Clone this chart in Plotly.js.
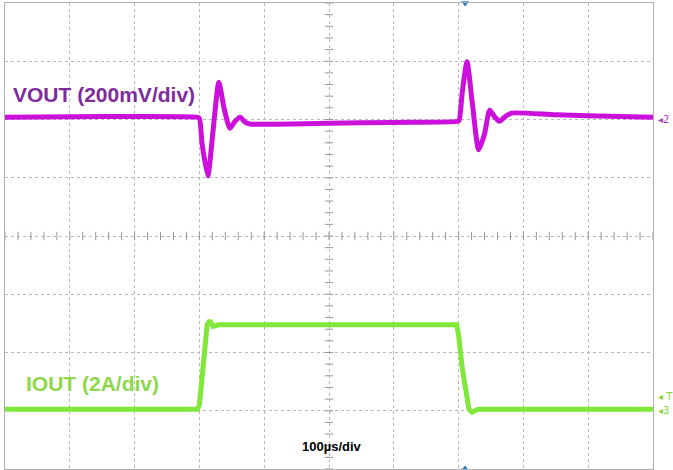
<!DOCTYPE html>
<html><head><meta charset="utf-8">
<script src="https://cdn.plot.ly/plotly-3.0.1.min.js"></script>
<style>html,body{margin:0;padding:0;background:#fff}#c{width:673px;height:470px}</style>
</head><body><div id="c"></div>
<script>
// time in microseconds (100 µs/div)
const vTime = [0, 150, 296, 300, 304, 313, 321, 330, 338, 347, 355, 363, 371, 380, 420, 500, 600, 699, 701, 706, 713, 721, 731, 740, 748, 756, 763, 772, 782, 850, 950, 1000];
// VOUT deviation in mV (200 mV/div), 0 = channel 2 marker
const vOut = [8, 10, 8, 4, -80, -194, -40, 128, 40, -30, -6, 8, -10, -16, -16, -13, -10, -6, -2, 100, 198, 60, -104, -50, 32, 8, -6, 10, 22, 16, 10, 8];
const iTime = [0, 297, 300, 304, 312, 316, 321, 330, 500, 697, 700, 706, 716, 721, 730, 800, 1000];
// IOUT in A (2 A/div), 0 = channel 3 marker
const iOut = [0.05, 0.05, 0.2, 1.2, 2.95, 3.1, 2.9, 2.95, 2.95, 2.95, 2.6, 1.4, 0.05, -0.05, 0.05, 0.05, 0.05];
const vLabel = 'VOUT (200mV/div)';
const iLabel = 'IOUT (2A/div)';
const timeLabel = '100µs/div';
const triggerTime = 710;

// minor ticks along the centre crosshair
const hx = [], hy = [], vx = [], vy = [];
for (let t = 0; t <= 1000; t += 20) { hx.push(t); hy.push(-400); }
for (let m = -1200; m <= 400; m += 40) { vx.push(500); vy.push(m); }

const traces = [
  {x: hx, y: hy, mode: 'markers', marker: {symbol: 'line-ns', size: 6, line: {width: 1, color: '#999'}}, hoverinfo: 'skip', showlegend: false},
  {x: vx, y: vy, mode: 'markers', marker: {symbol: 'line-ew', size: 6, line: {width: 1, color: '#999'}}, hoverinfo: 'skip', showlegend: false},
  {x: vTime, y: vOut, mode: 'lines', line: {color: '#cc10dc', width: 5, shape: 'spline', smoothing: 0.6}, showlegend: false},
  {x: iTime, y: iOut, mode: 'lines', yaxis: 'y2', line: {color: '#7fe83a', width: 5}, showlegend: false},
  {x: [triggerTime, triggerTime], y: [400, -1200], mode: 'markers', cliponaxis: false,
   marker: {symbol: ['triangle-down', 'triangle-up'], size: 7, color: '#2a78c8'}, showlegend: false}
];

const layout = {
  width: 673, height: 470,
  margin: {l: 5, r: 20, t: 3, b: 1},
  paper_bgcolor: '#fff', plot_bgcolor: '#fff',
  showlegend: false,
  xaxis: {range: [0, 1000], dtick: 100, tick0: 0, showgrid: true, gridcolor: '#b8b8b8', griddash: 'dot', gridwidth: 1,
          zeroline: false, showticklabels: false, ticks: '', showline: true, mirror: true, linecolor: '#b0b0b0', linewidth: 1},
  yaxis: {range: [-1200, 400], dtick: 200, tick0: 0, showgrid: true, gridcolor: '#b8b8b8', griddash: 'dot', gridwidth: 1,
          zeroline: false, showticklabels: false, ticks: '', showline: true, mirror: true, linecolor: '#b0b0b0', linewidth: 1},
  yaxis2: {range: [-2, 14], overlaying: 'y', showgrid: false, zeroline: false, showticklabels: false, ticks: '', showline: false},
  annotations: [
    {xref: 'paper', yref: 'paper', x: 0.01, y: 0.803, xanchor: 'left', yanchor: 'middle', text: '<b>' + vLabel + '</b>',
     showarrow: false, font: {family: 'Liberation Sans, Arial, sans-serif', size: 21, color: '#7e2c9c'}},
    {xref: 'paper', yref: 'paper', x: 0.03, y: 0.183, xanchor: 'left', yanchor: 'middle', text: '<b>' + iLabel + '</b>',
     showarrow: false, font: {family: 'Liberation Sans, Arial, sans-serif', size: 21, color: '#8cd84a'}},
    {xref: 'paper', yref: 'paper', x: 0.455, y: 0.048, xanchor: 'left', yanchor: 'middle', text: '<b>' + timeLabel + '</b>',
     showarrow: false, font: {family: 'Liberation Sans, Arial, sans-serif', size: 13, color: '#000'}},
    {xref: 'paper', yref: 'y', x: 1.005, y: 0, xanchor: 'left', yanchor: 'middle', text: '◂2',
     showarrow: false, font: {family: 'DejaVu Sans', size: 10, color: '#b040c0'}},
    {xref: 'paper', yref: 'y2', x: 1.005, y: 0.5, xanchor: 'left', yanchor: 'middle', text: '◂ T',
     showarrow: false, font: {family: 'DejaVu Sans', size: 10, color: '#7fd83a'}},
    {xref: 'paper', yref: 'y2', x: 1.005, y: 0, xanchor: 'left', yanchor: 'middle', text: '◂3',
     showarrow: false, font: {family: 'DejaVu Sans', size: 10, color: '#7fd83a'}}
  ]
};
Plotly.newPlot('c', traces, layout, {staticPlot: true, displayModeBar: false});
</script></body></html>
